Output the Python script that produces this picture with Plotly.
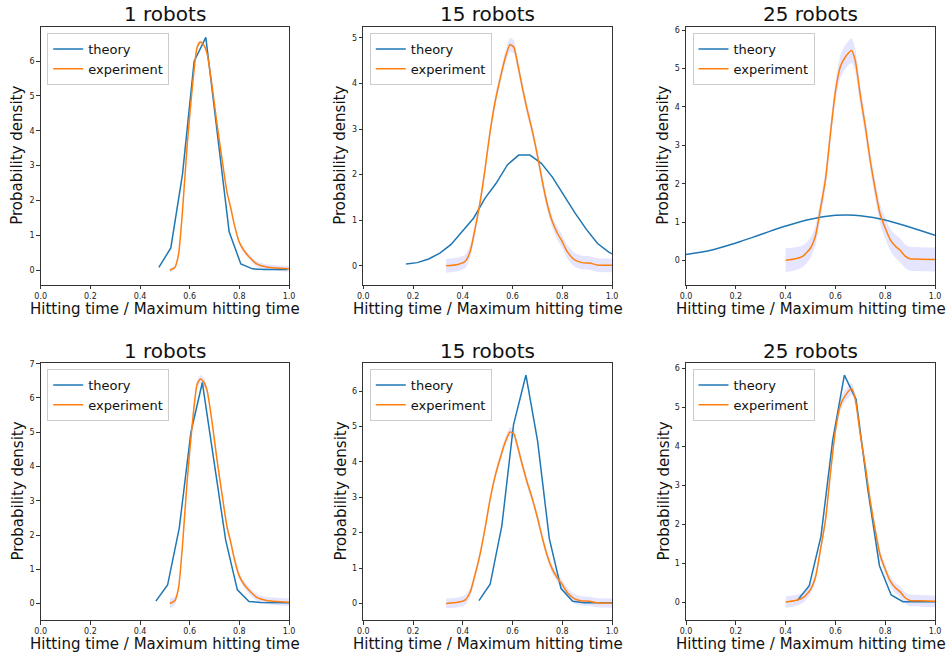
import plotly.graph_objects as go

# ---------------- data ----------------
titles = ["1 robots", "15 robots", "25 robots"]
x_label = "Hitting time / Maximum hitting time"
y_label = "Probability density"
x_ticks = [0.0, 0.2, 0.4, 0.6, 0.8, 1.0]

# experiment curves (shared by both rows of a column)
exp1_x = [0.52, 0.54, 0.555, 0.57, 0.59, 0.61, 0.63, 0.643, 0.655, 0.67, 0.69, 0.71, 0.73, 0.75,
          0.765, 0.78, 0.80, 0.82, 0.84, 0.87, 0.91, 0.95, 1.0]
exp1_y = [0.0, 0.08, 0.45, 1.6, 3.6, 5.2, 6.4, 6.55, 6.48, 6.22, 5.3, 4.2, 3.2, 2.25,
          1.8, 1.3, 0.8, 0.55, 0.38, 0.18, 0.09, 0.06, 0.04]
exp15_x = [0.333, 0.38, 0.41, 0.43, 0.45, 0.47, 0.49, 0.51, 0.53, 0.55, 0.57, 0.59, 0.605, 0.62,
           0.64, 0.66, 0.68, 0.70, 0.72, 0.74, 0.76, 0.78, 0.80, 0.82, 0.85, 0.88, 0.91, 0.94, 1.0]
exp15_y = [0.0, 0.03, 0.1, 0.32, 0.83, 1.41, 2.14, 2.95, 3.6, 4.1, 4.55, 4.85, 4.8, 4.45,
           3.9, 3.4, 2.95, 2.43, 1.85, 1.34, 0.97, 0.72, 0.53, 0.31, 0.13, 0.07, 0.06, 0.02, 0.01]
exp25_x = [0.40, 0.44, 0.47, 0.50, 0.52, 0.54, 0.56, 0.58, 0.60, 0.62, 0.64, 0.665, 0.68, 0.70,
           0.72, 0.74, 0.76, 0.78, 0.80, 0.82, 0.84, 0.86, 0.88, 0.90, 0.94, 1.0]
exp25_y = [0.01, 0.05, 0.12, 0.33, 0.65, 1.35, 2.1, 3.3, 4.4, 5.05, 5.3, 5.47, 5.2, 4.3,
           3.5, 2.6, 1.85, 1.2, 0.85, 0.55, 0.38, 0.27, 0.12, 0.05, 0.04, 0.03]

# half-widths of the shaded bands, per panel
err1_top = [0.05] * 16 + [0.06, 0.07, 0.07, 0.08, 0.08, 0.08, 0.08]
err1_bot = [0.15, 0.12, 0.1, 0.1, 0.1, 0.1, 0.12, 0.12, 0.12, 0.12, 0.1, 0.1, 0.1, 0.1,
            0.1, 0.1, 0.1, 0.1, 0.1, 0.1, 0.1, 0.11, 0.11]
err15_top = [0.15, 0.15, 0.15, 0.14, 0.13, 0.13, 0.13, 0.13, 0.13, 0.13, 0.14, 0.15, 0.15, 0.14,
             0.13, 0.13, 0.13, 0.13, 0.13, 0.13, 0.13, 0.14, 0.14, 0.15, 0.15, 0.15, 0.15, 0.15, 0.15]
err15_bot = [0.14, 0.14, 0.14, 0.13, 0.12, 0.12, 0.12, 0.12, 0.12, 0.12, 0.12, 0.13, 0.13, 0.12,
             0.12, 0.12, 0.12, 0.12, 0.12, 0.12, 0.12, 0.12, 0.13, 0.13, 0.13, 0.13, 0.13, 0.13, 0.13]
err25_top = [0.31, 0.3, 0.28, 0.26, 0.25, 0.24, 0.24, 0.25, 0.27, 0.3, 0.31, 0.32, 0.3, 0.27,
             0.25, 0.24, 0.24, 0.25, 0.27, 0.29, 0.3, 0.31, 0.31, 0.31, 0.31, 0.31]
err25_bot = [0.15, 0.14, 0.13, 0.12, 0.12, 0.12, 0.12, 0.12, 0.13, 0.14, 0.15, 0.15, 0.14, 0.13,
             0.12, 0.12, 0.12, 0.12, 0.12, 0.12, 0.13, 0.14, 0.14, 0.15, 0.15, 0.15]

# theory curves
th1_top_x = [0.476, 0.524, 0.571, 0.618, 0.665, 0.712, 0.759, 0.806, 0.853, 0.90, 0.947, 0.994]
th1_top_y = [0.08, 0.64, 2.75, 6.0, 6.68, 3.9, 1.1, 0.18, 0.04, 0.02, 0.02, 0.02]
th15_top_x = [0.172, 0.217, 0.263, 0.308, 0.353, 0.399, 0.444, 0.489, 0.534, 0.580, 0.625, 0.670,
              0.716, 0.761, 0.806, 0.851, 0.897, 0.942, 0.987, 1.032]
th15_top_y = [0.04, 0.07, 0.15, 0.28, 0.47, 0.76, 1.05, 1.48, 1.81, 2.22, 2.43, 2.43,
              2.25, 1.94, 1.54, 1.16, 0.80, 0.49, 0.30, 0.18]
th25_top_x = [0.0, 0.1, 0.2, 0.3, 0.4, 0.5, 0.6, 0.65, 0.7, 0.8, 0.9, 1.0]
th25_top_y = [0.16, 0.27, 0.46, 0.68, 0.90, 1.08, 1.18, 1.19, 1.17, 1.06, 0.87, 0.66]

th1_bot_x = [0.464, 0.511, 0.558, 0.605, 0.651, 0.698, 0.745, 0.792, 0.839, 0.886, 0.933, 0.98, 1.027]
th1_bot_y = [0.07, 0.54, 2.2, 5.0, 6.45, 4.2, 1.85, 0.4, 0.06, 0.03, 0.02, 0.02, 0.02]
th15_bot_x = [0.465, 0.510, 0.557, 0.604, 0.654, 0.701, 0.748, 0.795, 0.842, 0.889, 0.936, 0.983, 1.03]
th15_bot_y = [0.08, 0.54, 2.19, 5.05, 6.46, 4.58, 1.83, 0.42, 0.06, 0.02, 0.02, 0.02, 0.02]
th25_bot_x = [0.447, 0.495, 0.542, 0.589, 0.636, 0.683, 0.730, 0.777, 0.824, 0.871, 0.918, 0.965, 1.012]
th25_bot_y = [0.05, 0.43, 1.69, 4.15, 5.82, 5.2, 2.9, 0.94, 0.19, 0.02, 0.02, 0.02, 0.02]

y_ranges = [[-0.41, 6.98], [-0.41, 5.24], [-0.62, 6.08],
            [-0.48, 7.02], [-0.47, 6.80], [-0.45, 6.13]]
y_tick_max = [6, 5, 6, 7, 6, 6]

# ---------------- layout geometry (pixels) ----------------
W, H = 951, 660
col_px = [(40.7, 289.0), (363.3, 612.0), (686.0, 935.0)]
row_px = [(27.0, 284.5), (363.0, 620.0)]
ylab_px = [17, 340, 663]
title_y_px = [14, 351]
xlab_y_px = [309, 644]

panels = [
    (exp1_x, exp1_y, err1_top, th1_top_x, th1_top_y, "linear"),
    (exp15_x, exp15_y, err15_top, th15_top_x, th15_top_y, "linear"),
    (exp25_x, exp25_y, err25_top, th25_top_x, th25_top_y, "spline"),
    (exp1_x, exp1_y, err1_bot, th1_bot_x, th1_bot_y, "linear"),
    (exp15_x, exp15_y, err15_bot, th15_bot_x, th15_bot_y, "linear"),
    (exp25_x, exp25_y, err25_bot, th25_bot_x, th25_bot_y, "linear"),
]

FONT = "DejaVu Sans"
BLUE = "#1f77b4"
ORANGE = "#ff7f0e"

fig = go.Figure()
annotations = []
layout_extra = {}

for i, (ex, ey, err, tx, ty, tshape) in enumerate(panels):
    r, c = divmod(i, 3)
    n = i + 1
    xa = "x" if n == 1 else f"x{n}"
    ya = "y" if n == 1 else f"y{n}"
    lg = "legend" if n == 1 else f"legend{n}"
    upper = [v + e for v, e in zip(ey, err)]
    lower = [v - e for v, e in zip(ey, err)]
    fig.add_trace(go.Scatter(x=ex, y=upper, mode="lines", line=dict(width=0, shape="spline", smoothing=0.6),
                             showlegend=False, hoverinfo="skip", xaxis=xa, yaxis=ya, legend=lg))
    fig.add_trace(go.Scatter(x=ex, y=lower, mode="lines", line=dict(width=0, shape="spline", smoothing=0.6),
                             fill="tonexty", fillcolor="rgba(0,0,255,0.1)",
                             showlegend=False, hoverinfo="skip", xaxis=xa, yaxis=ya, legend=lg))
    fig.add_trace(go.Scatter(x=tx, y=ty, mode="lines", name="theory", legendrank=1,
                             line=dict(color=BLUE, width=1.5, shape=tshape),
                             xaxis=xa, yaxis=ya, legend=lg))
    fig.add_trace(go.Scatter(x=ex, y=ey, mode="lines", name="experiment", legendrank=2,
                             line=dict(color=ORANGE, width=1.5, shape="spline", smoothing=0.6),
                             xaxis=xa, yaxis=ya, legend=lg))

    x0, x1 = col_px[c]
    y0, y1 = row_px[r]
    axis_common = dict(showgrid=False, zeroline=False, showline=True, linecolor="#333333",
                       linewidth=1, mirror=True, ticks="outside", ticklen=3.5, tickwidth=0.8,
                       tickcolor="#333333", automargin=False,
                       tickfont=dict(family=FONT, size=8, color="#222222"))
    layout_extra["xaxis" if n == 1 else f"xaxis{n}"] = dict(
        domain=[x0 / W, x1 / W], range=[0, 1], anchor=ya, tickvals=x_ticks,
        ticktext=[f"{v:.1f}" for v in x_ticks], **axis_common)
    layout_extra["yaxis" if n == 1 else f"yaxis{n}"] = dict(
        domain=[1 - y1 / H, 1 - y0 / H], range=y_ranges[i], anchor=xa,
        tickvals=list(range(0, y_tick_max[i] + 1)), **axis_common)
    layout_extra[lg] = dict(x=(x0 + 6.5) / W, y=1 - (y0 + 6) / H, xanchor="left", yanchor="top",
                            xref="paper", yref="paper", traceorder="normal",
                            bgcolor="rgba(255,255,255,0.8)", bordercolor="#cccccc", borderwidth=1,
                            font=dict(family=FONT, size=13, color="#111111"),
                            itemwidth=30, tracegroupgap=0)

    xc = (x0 + x1) / 2
    annotations.append(dict(text=titles[c], x=xc / W, y=1 - title_y_px[r] / H, xref="paper", yref="paper",
                            showarrow=False, xanchor="center", yanchor="middle",
                            font=dict(family=FONT, size=20, color="#111111")))
    annotations.append(dict(text=x_label, x=xc / W, y=1 - xlab_y_px[r] / H, xref="paper", yref="paper",
                            showarrow=False, xanchor="center", yanchor="middle",
                            font=dict(family=FONT, size=15, color="#111111")))
    annotations.append(dict(text=y_label, x=ylab_px[c] / W, y=1 - ((y0 + y1) / 2) / H, xref="paper",
                            yref="paper", showarrow=False, xanchor="center", yanchor="middle",
                            textangle=-90, font=dict(family=FONT, size=15, color="#111111")))

fig.update_layout(width=W, height=H, autosize=False,
                  margin=dict(l=0, r=0, t=0, b=0, pad=0, autoexpand=False),
                  paper_bgcolor="white", plot_bgcolor="white", annotations=annotations,
                  **layout_extra)

fig.write_html("out.html", config={"displayModeBar": False},
               post_script="document.body.style.margin='0';document.body.style.padding='0';"
                           "document.body.style.overflow='hidden';")
